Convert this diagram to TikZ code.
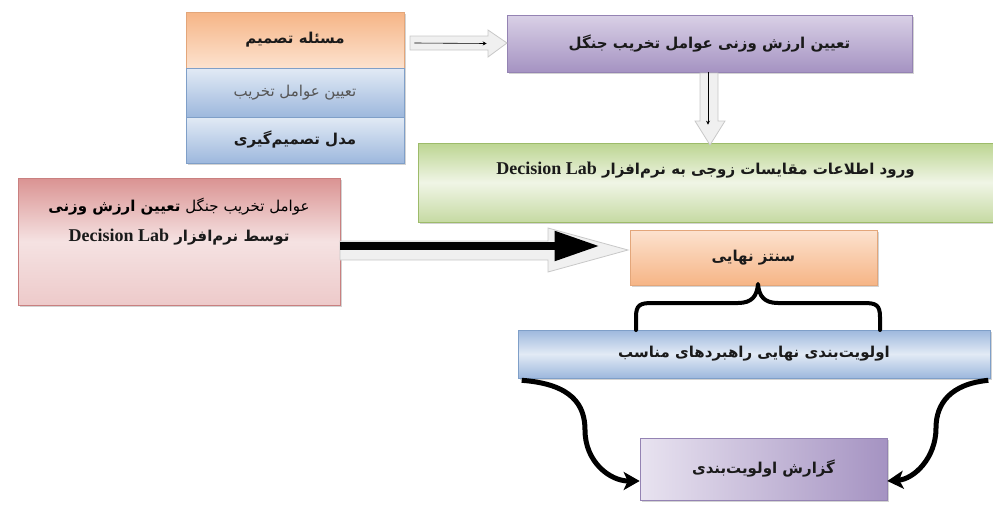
\documentclass[tikz,border=0pt]{standalone}
\usepackage{fontspec}
\usetikzlibrary{arrows.meta,shadows,calc}
\TeXXeTstate=1
\newfontfamily\fa[Script=Arabic]{DejaVu Sans}
\newfontfamily\latf{Liberation Serif}
\definecolor{orT}{HTML}{F6B586}
\definecolor{orB}{HTML}{FCE2CF}
\definecolor{orL}{HTML}{E3A67A}
\definecolor{blT}{HTML}{E2EAF5}
\definecolor{blB}{HTML}{9DB8DD}
\definecolor{blL}{HTML}{7F9FC8}
\definecolor{puT}{HTML}{D9D0E6}
\definecolor{puB}{HTML}{A593C2}
\definecolor{puL}{HTML}{9483B3}
\definecolor{grT}{HTML}{BCD591}
\definecolor{grM}{HTML}{F0F5E6}
\definecolor{grB}{HTML}{C6DAA3}
\definecolor{grL}{HTML}{9DBB6A}
\definecolor{rdT}{HTML}{DA9392}
\definecolor{rdM}{HTML}{F5E2E2}
\definecolor{rdB}{HTML}{EDCACA}
\definecolor{rdL}{HTML}{C98080}
\definecolor{agF}{HTML}{F0F0F0}
\definecolor{agL}{HTML}{C8C8C8}
\definecolor{txt}{HTML}{1A1A1A}
\definecolor{txg}{HTML}{555555}
\newcommand{\dl}{\beginL{\latf\bfseries\fontsize{18}{20}\selectfont Decision Lab}\endL}
\begin{document}
\begin{tikzpicture}[x=1pt,y=-1pt,
  box/.style={draw, inner sep=0pt, line width=0.6pt,
    drop shadow={opacity=0.35, shadow xshift=2pt, shadow yshift=-2pt}},
  ftxt/.style={font=\fa\fontsize{15}{18}\selectfont, text=txt, inner sep=0pt},
  hollow/.style={fill=agF, draw=agL, line width=0.8pt},
  thinarrow/.style={line width=0.6pt, -{Stealth[length=4pt,width=4pt]}},
  curvearrow/.style={line width=5pt, -{Stealth[length=16pt,width=18pt,inset=4pt]}},
  brc/.style={line width=4pt, line cap=round, line join=round}]
\useasboundingbox (0,0) rectangle (993,506);

% ---- boxes
\node[box, draw=orL, top color=orT, bottom color=orB, minimum width=218pt, minimum height=56pt] (o1) at (295,40) {};
\node[box, draw=blL, top color=blT, bottom color=blB, minimum width=218pt, minimum height=49pt] (b1) at (295,92.5) {};
\node[box, draw=blL, top color=blT, bottom color=blB, minimum width=218pt, minimum height=46pt] (b2) at (295,140) {};
\node[box, draw=puL, top color=puT, bottom color=puB, minimum width=405pt, minimum height=57pt] (p1) at (709.5,43.5) {};
\node[box, draw=grL, top color=grT, bottom color=grB, middle color=grM, minimum width=575pt, minimum height=79pt] (g1) at (705.5,182.5) {};
\node[box, draw=rdL, top color=rdT, bottom color=rdB, middle color=rdM, minimum width=322pt, minimum height=127pt] (r1) at (179,241.5) {};
\node[box, draw=orL, top color=orB, bottom color=orT, minimum width=247pt, minimum height=55pt] (s1) at (753.5,257.5) {};
\node[box, draw=blL, top color=blB, bottom color=blB, middle color=blT, minimum width=472pt, minimum height=48pt] (w1) at (754,354) {};
\node[box, draw=puL, left color=puT!60!white, right color=puB, minimum width=247pt, minimum height=62pt] (q1) at (763.5,469) {};

% ---- texts
\node[ftxt] (o1t) at (o1) {\bfseries\beginR مسئله تصمیم\endR};
\node[ftxt, text=txg] (b1t) at (b1) {\beginR تعیین عوامل تخریب\endR};
\node[ftxt] (b2t) at (b2) {\bfseries\beginR مدل تصمیم^^^^200cگیری\endR};
\node[ftxt] (p1t) at (p1) {\bfseries\beginR تعیین ارزش وزنی عوامل تخریب جنگل\endR};
\node[ftxt] (g1t) at (705.5,170) {\bfseries\beginR ورود اطلاعات مقایسات زوجی به نرم^^^^200cافزار \dl\endR};
\node[ftxt, align=center] (r1t) at (179,222) {\beginR\hbox{\color{txg}\beginR عوامل تخریب جنگل\endR}\ \hbox{\bfseries\color{txt}\beginR تعیین ارزش وزنی\endR}\endR\\[12pt]\hbox{\bfseries\color{txt}\beginR توسط نرم^^^^200cافزار \dl\endR}};
\node[ftxt] (s1t) at (s1) {\bfseries\beginR سنتز نهایی\endR};
\node[ftxt] (w1t) at (w1) {\bfseries\beginR اولویت^^^^200cبندی نهایی راهبردهای مناسب\endR};
\node[ftxt] (q1t) at (q1) {\bfseries\beginR گزارش اولویت^^^^200cبندی\endR};

% ---- hollow arrow: orange -> purple
\filldraw[hollow] (410,36) -- (488,36) -- (488,30) -- (507,43) -- (488,57) -- (488,50) -- (410,50) -- cycle;
\draw[thinarrow] ([xshift=10pt,yshift=-3pt]o1.east) -- ([xshift=-20pt]p1.west);

% ---- hollow arrow: purple -> green
\filldraw[hollow] (700,73) -- (718,73) -- (718,121) -- (725,121) -- (710,145) -- (695,121) -- (700,121) -- cycle;
\draw[thinarrow] ([xshift=-1.5pt]p1.south) -- ([xshift=-1.5pt]p1.south |- g1.north) [shorten >=18pt];

% ---- big arrow: red -> sentez
\filldraw[hollow] (340,241) -- (548,241) -- (548,228) -- (628,250) -- (548,272) -- (548,260) -- (340,260) -- cycle;
\draw[line width=8pt, -{Triangle[length=45pt,width=28pt]}, shorten >=30pt] ([yshift=-4.5pt]r1.east) -- ([yshift=-4.5pt]r1.east -| s1.west);

% ---- brace
\draw[brc] (636,330) -- (636,317) .. controls (636,305) and (640,303) .. (652,303) -- (738,303)
  .. controls (752,303) and (757,296) .. (758,284)
  .. controls (759,296) and (764,303) .. (778,303) -- (864,303)
  .. controls (876,303) and (880,305) .. (880,317) -- (880,330);

% ---- curved arrows
\draw[curvearrow] ([xshift=4pt,yshift=-2pt]w1.south west) .. controls (572,384) and (585,405) .. (585,430)
  .. controls (585,462) and (610,481) .. ([yshift=-12pt]q1.west);
\draw[curvearrow] ([xshift=-2pt,yshift=-2pt]w1.south east) .. controls (950,384) and (936,404) .. (936,428)
  .. controls (936,458) and (914,479) .. ([yshift=-12pt]q1.east);
\end{tikzpicture}
\end{document}
